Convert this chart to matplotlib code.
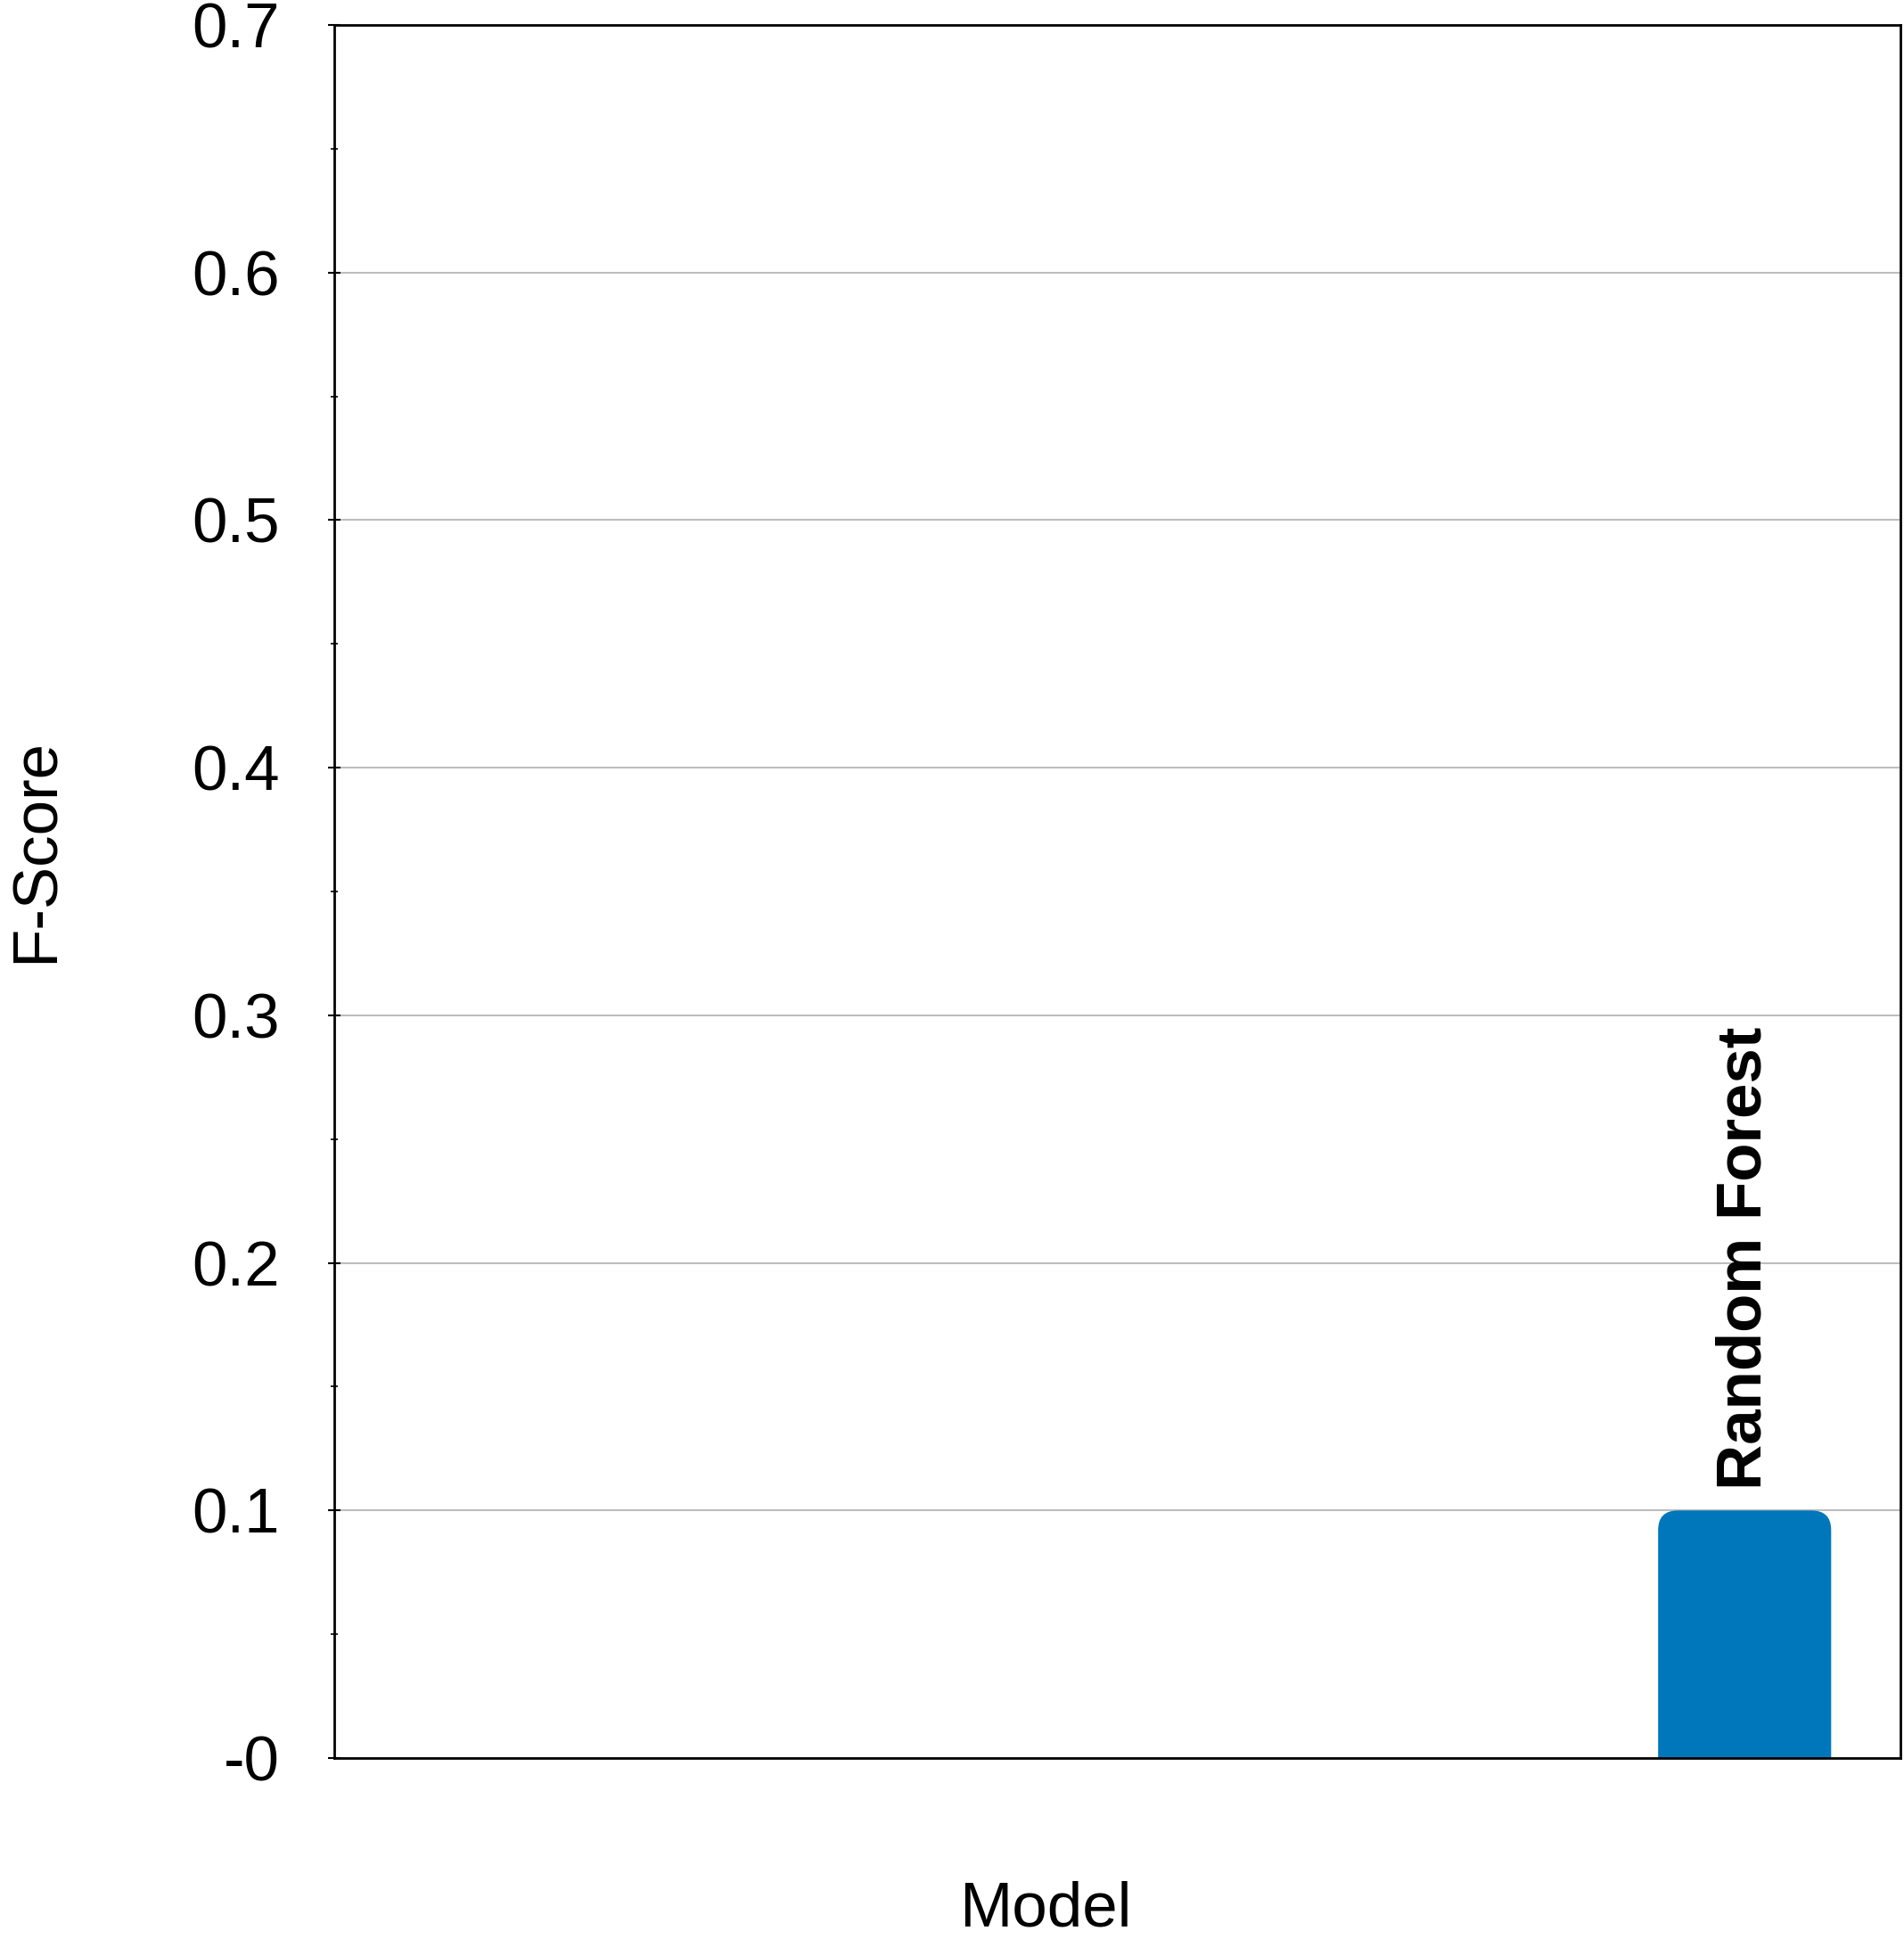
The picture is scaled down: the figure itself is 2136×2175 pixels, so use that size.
import matplotlib
matplotlib.use("Agg")
import matplotlib.pyplot as plt
from matplotlib.patches import FancyBboxPatch
from matplotlib.ticker import FixedLocator, FixedFormatter, MultipleLocator

# Data
models = ["Random Forest"]
fscores = [0.1]
ytick_values = [0.0, 0.1, 0.2, 0.3, 0.4, 0.5, 0.6, 0.7]
ytick_labels = ["-0", "0.1", "0.2", "0.3", "0.4", "0.5", "0.6", "0.7"]

plt.rcParams["font.family"] = ["Liberation Sans", "DejaVu Sans"]
FS = 51
BAR_COLOR = "#0077BB"

fig = plt.figure(figsize=(21.36, 21.75), dpi=100)
ax = fig.add_axes([0.1756, 0.0933, 0.8225, 0.8938])

positions = list(range(len(models)))
bar_width = 0.8
bars = ax.bar(positions, fscores, width=bar_width, color=BAR_COLOR, zorder=2)

ax.set_xlim(-6.52, 0.72)
ax.set_ylim(0, 0.7)

# y axis ticks, labels and grid
ax.yaxis.set_major_locator(FixedLocator(ytick_values))
ax.yaxis.set_major_formatter(FixedFormatter(ytick_labels))
ax.yaxis.set_minor_locator(MultipleLocator(0.05))
ax.tick_params(axis="y", which="major", direction="inout", length=10, width=1.5,
               labelsize=FS, pad=39)
ax.tick_params(axis="y", which="minor", direction="inout", length=6, width=1.2)
ax.set_xticks([])
ax.yaxis.grid(True, which="major", color="#bdbdbd", linewidth=1.5)
ax.set_axisbelow(True)
for sp in ax.spines.values():
    sp.set_linewidth(2)
    sp.set_color("black")

# Replace square bars with ones whose top corners are rounded
fig.canvas.draw()
x0, y0 = ax.transData.transform((0, 0))
x1, y1 = ax.transData.transform((1, 1))
px_per_x = x1 - x0
px_per_y = y1 - y0
radius_px = 22
r_x = radius_px / px_per_x
aspect = (radius_px / px_per_y) / r_x
for rect in bars:
    rect.set_visible(False)
    bx, bw, bh = rect.get_x(), rect.get_width(), rect.get_height()
    ext = 3 * radius_px / px_per_y
    patch = FancyBboxPatch((bx, -ext), bw, bh + ext,
                           boxstyle=f"round,pad=0,rounding_size={r_x}",
                           mutation_aspect=aspect,
                           facecolor=BAR_COLOR, edgecolor="none", zorder=2)
    ax.add_patch(patch)

# Category labels above the bars
for pos, name, val in zip(positions, models, fscores):
    ax.annotate(name, xy=(pos, val), xytext=(0, 17), textcoords="offset points",
                rotation=90, ha="center", va="bottom", fontsize=FS,
                fontweight="bold", color="black")

ax.set_xlabel("Model", fontsize=FS, va="baseline")
ax.xaxis.set_label_coords(0.454, -0.0967)
ax.set_ylabel("F-Score", fontsize=FS, va="baseline", rotation_mode="anchor")
ax.yaxis.set_label_coords(-0.1793, 0.5237)

fig.savefig("out.png", dpi=100, facecolor="white")
